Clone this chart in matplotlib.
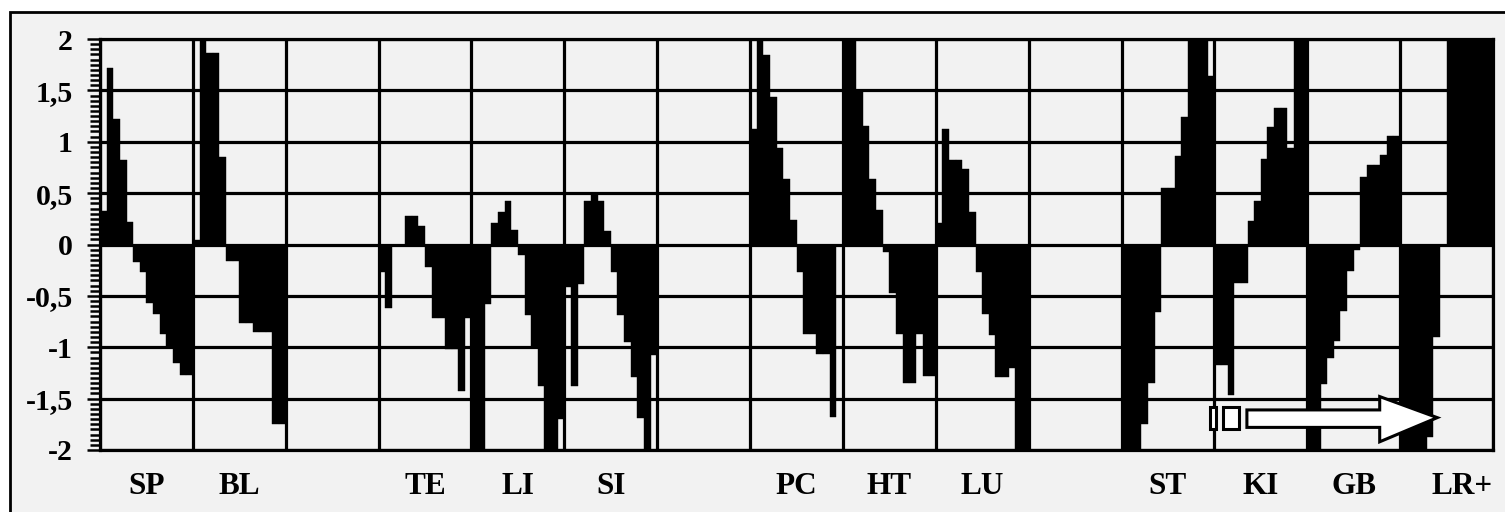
import matplotlib
matplotlib.use("Agg")
from matplotlib import pyplot as plt
from matplotlib.patches import Rectangle, Polygon
from matplotlib.ticker import MultipleLocator, FuncFormatter
import matplotlib.transforms as mtransforms

# column labels (15 columns, some empty)
labels = ["SP", "BL", "", "TE", "LI", "SI", "", "PC", "HT", "LU", "", "ST", "KI", "GB", "LR+"]

# 14 bar values per column
sp = [0.33, 1.72, 1.22, 0.82, 0.22, -0.17, -0.27, -0.57, -0.68, -0.87, -1.0, -1.15, -1.27, -1.27]
bl = [0.04, 2.0, 1.86, 1.86, 0.85, -0.16, -0.16, -0.76, -0.76, -0.85, -0.85, -0.85, -1.75, -1.75]
te = [-0.27, -0.62, 0.0, 0.0, 0.28, 0.28, 0.18, -0.22, -0.72, -0.72, -1.02, -1.02, -1.43, -0.72]
li = [-2.0, -2.0, -0.58, 0.21, 0.32, 0.42, 0.14, -0.1, -0.69, -1.0, -1.38, -2.0, -2.0, -1.7]
si = [-0.41, -1.38, -0.38, 0.42, 0.49, 0.42, 0.13, -0.27, -0.69, -0.95, -1.29, -1.69, -2.0, -1.08]
pc = [1.12, 2.0, 1.84, 1.44, 0.94, 0.64, 0.24, -0.27, -0.87, -0.87, -1.07, -1.07, -1.68, 0.0]
ht = [2.0, 2.0, 1.49, 1.15, 0.64, 0.34, -0.07, -0.47, -0.87, -1.35, -1.35, -0.87, -1.28, -1.28]
lu = [0.21, 1.12, 0.82, 0.82, 0.73, 0.32, -0.27, -0.68, -0.88, -1.29, -1.29, -1.2, -2.0, -2.0]
st = [-2.0, -2.0, -2.0, -1.75, -1.35, -0.66, 0.55, 0.55, 0.86, 1.24, 2.0, 2.0, 2.0, 1.64]
ki = [-1.17, -1.17, -1.46, -0.37, -0.37, 0.23, 0.42, 0.83, 1.14, 1.33, 1.33, 0.94, 2.0, 2.0]
gb = [-2.0, -2.0, -1.36, -1.1, -0.94, -0.65, -0.26, -0.05, 0.66, 0.77, 0.77, 0.87, 1.06, 1.06]
lr = [-2.0, -2.0, -2.0, -2.0, -1.87, -0.9, 0.0, 2.0, 2.0, 2.0, 2.0, 2.0, 2.0, 2.0]
empty = []

columns = [sp, bl, empty, te, li, si, empty, pc, ht, lu, empty, st, ki, gb, lr]

yticks = [-2, -1.5, -1, -0.5, 0, 0.5, 1, 1.5, 2]

bg = "#f2f2f2"
fig = plt.figure(figsize=(15.05, 5.12), dpi=100, facecolor="white")
# outer frame of the picture
fig.patches.append(Rectangle((10 / 1505, -0.05), 1.1, 1 - 12 / 512 + 0.05,
                             transform=fig.transFigure, facecolor=bg,
                             edgecolor="black", linewidth=2, zorder=-10))

ax = fig.add_axes([100 / 1505, 1 - 450 / 512, (1493 - 100) / 1505, (450 - 39) / 512])
ax.set_facecolor(bg)
ax.set_zorder(5)

n = 14
for c, vals in enumerate(columns):
    if not vals:
        continue
    xs = [c + (k + 0.5) / n for k in range(len(vals))]
    ax.bar(xs, vals, width=1.0 / n, color="black", edgecolor="black",
           linewidth=0.3, zorder=3)

ax.set_xlim(0, 15)
ax.set_ylim(-2, 2)

# grid
for c in range(16):
    ax.axvline(c, color="black", linewidth=2.3, zorder=2)
for y in yticks:
    ax.axhline(y, color="black", linewidth=2.3, zorder=2)

for s in ax.spines.values():
    s.set_linewidth(2.3)
    s.set_zorder(4)

ax.set_xticks([])
ax.set_yticks(yticks)
ax.yaxis.set_minor_locator(MultipleLocator(0.05))
ax.yaxis.set_major_formatter(FuncFormatter(lambda v, p: ("%g" % v).replace(".", ",")))
ax.tick_params(axis="y", which="major", length=9.5, width=1.8, pad=10)
ax.tick_params(axis="y", which="minor", length=7.5, width=1.8)
for t in ax.get_yticklabels():
    t.set_fontfamily("Liberation Serif")
    t.set_fontweight("bold")
    t.set_fontsize(21.5)

trans = mtransforms.blended_transform_factory(ax.transData, ax.transAxes)
for c, lab in enumerate(labels):
    if not lab:
        continue
    xpos = c + 0.5 if lab != "LR+" else c + 0.67
    ax.text(xpos, -0.088, lab, transform=trans, ha="center", va="center",
            fontfamily="Liberation Serif", fontweight="bold", fontsize=22.5)

# the hollow arrow in the lower right
arrow = [(12.35, -1.61), (13.78, -1.61), (13.78, -1.48), (14.40, -1.685),
         (13.78, -1.92), (13.78, -1.78), (12.35, -1.78)]
ax.add_patch(Polygon(arrow, closed=True, facecolor="white", edgecolor="black",
                     linewidth=2.2, zorder=5))
ax.add_patch(Rectangle((11.95, -1.80), 0.07, 0.22, facecolor="white",
                       edgecolor="black", linewidth=2.2, zorder=5))
ax.add_patch(Rectangle((12.09, -1.80), 0.18, 0.22, facecolor="white",
                       edgecolor="black", linewidth=2.2, zorder=5))

fig.savefig("out.png", dpi=100, facecolor=fig.get_facecolor())
